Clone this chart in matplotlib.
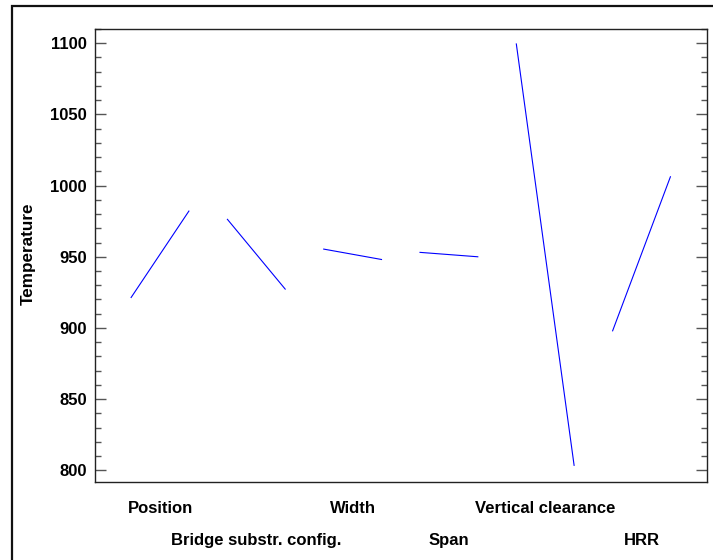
import matplotlib
matplotlib.use("Agg")
import matplotlib.pyplot as plt
from matplotlib.patches import Rectangle
from matplotlib.ticker import MultipleLocator

# Main effects for Temperature: mean response at the low and high level of each factor
factors = ["Position", "Bridge substr. config.", "Width", "Span",
           "Vertical clearance", "HRR"]
low_level = [921.4, 976.3, 955.4, 953.1, 1099.5, 898.0]
high_level = [982.1, 927.3, 948.1, 950.0, 803.5, 1006.2]

plt.rcParams["font.family"] = ["Liberation Sans", "DejaVu Sans"]
plt.rcParams["font.weight"] = "bold"

fig = plt.figure(figsize=(7.13, 5.6), dpi=100)
ax = fig.add_axes([95 / 713, 1 - 482 / 560, 612 / 713, 453 / 560])

half = 0.3
for i, (lo, hi) in enumerate(zip(low_level, high_level), start=1):
    ax.plot([i - half, i + half], [lo, hi], color="#0000ff", lw=0.8)

ax.set_xlim(0.325, 6.68)
ax.set_ylim(791.8, 1110)

ax.yaxis.set_major_locator(MultipleLocator(50))
ax.yaxis.set_minor_locator(MultipleLocator(10))
ax.tick_params(axis="y", which="both", direction="in", left=True, right=True,
               color="#555555", width=1.0, labelsize=12, pad=6)
ax.tick_params(axis="y", which="major", length=8)
ax.tick_params(axis="y", which="minor", length=4.5)
ax.tick_params(axis="x", which="both", bottom=False, labelbottom=False)
for lab in ax.get_yticklabels():
    lab.set_fontweight("bold")

for sp in ax.spines.values():
    sp.set_linewidth(1.0)
    sp.set_color("#222222")

# Factor names, staggered on two rows beneath the plot
row_y = [-0.0574, -0.130]
for i, name in enumerate(factors, start=1):
    ax.text(i, row_y[(i - 1) % 2], name, transform=ax.get_xaxis_transform(),
            ha="center", va="center", fontsize=12, fontweight="bold")

fig.text(28 / 713, 1 - 254 / 560, "Temperature", rotation=90,
         ha="center", va="center", fontsize=12.3, fontweight="bold")

# Outer frame
fig.patches.append(Rectangle((11.5 / 713, -0.1), 1.2, 1 - 5.5 / 560 + 0.1,
                             transform=fig.transFigure, fill=False,
                             edgecolor="#111111", lw=1.6, figure=fig))

fig.savefig("out.png", dpi=100)
